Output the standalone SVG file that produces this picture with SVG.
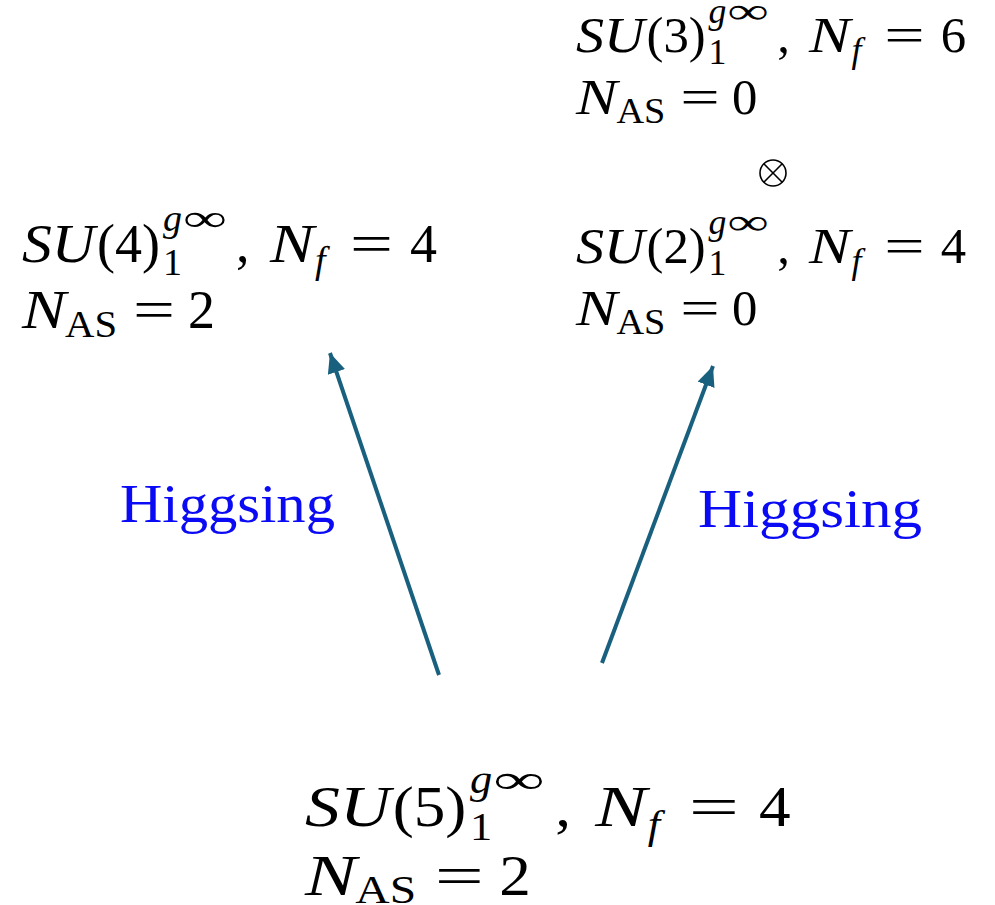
<svg xmlns="http://www.w3.org/2000/svg" width="995" height="905" viewBox="0 0 995 905">
<defs>
<marker id="ah" markerUnits="userSpaceOnUse" markerWidth="22" markerHeight="20" refX="20" refY="9" orient="auto">
<path d="M0,0 L20,9 L0,18 Z" fill="#19607f"/>
</marker>
</defs>
<rect width="995" height="905" fill="#fff"/>

<g id="connectors" stroke="#19607f" stroke-width="4" fill="none">
<line x1="439" y1="675" x2="330" y2="353" marker-end="url(#ah)"/>
<line x1="602" y1="663" x2="713" y2="366" marker-end="url(#ah)"/>
</g>

<g id="label-left"><text font-family="Liberation Serif" font-size="55" fill="#0a0af5" x="120" y="522" textLength="215" lengthAdjust="spacingAndGlyphs">Higgsing</text></g>
<g id="label-right"><text font-family="Liberation Serif" font-size="55" fill="#0a0af5" x="698" y="527" textLength="224" lengthAdjust="spacingAndGlyphs">Higgsing</text></g>

<g id="node-su4" transform="translate(22,262)" fill="#000">
<text font-family="Liberation Serif" font-size="54" font-style="italic" x="0" y="0" textLength="73" lengthAdjust="spacingAndGlyphs">SU</text>
<text font-family="Liberation Serif" font-size="54" x="75" y="0">(4)</text>
<text font-family="Liberation Serif" font-size="38" font-style="italic" x="141" y="-31">g</text>
<text font-family="Liberation Serif" font-size="38" x="161" y="-31" textLength="44" lengthAdjust="spacingAndGlyphs">∞</text>
<text font-family="Liberation Serif" font-size="38" x="141" y="13">1</text>
<text font-family="Liberation Serif" font-size="54" x="214" y="0">,</text>
<text font-family="Liberation Serif" font-size="54" font-style="italic" x="248" y="0" textLength="44" lengthAdjust="spacingAndGlyphs">N</text>
<text font-family="Liberation Serif" font-size="38" font-style="italic" x="293" y="11">f</text>
<text font-family="Liberation Serif" font-size="54" x="328" y="0" textLength="43" lengthAdjust="spacingAndGlyphs">=</text>
<text font-family="Liberation Serif" font-size="54" x="388" y="0">4</text>
<text font-family="Liberation Serif" font-size="54" font-style="italic" x="0" y="66" textLength="44" lengthAdjust="spacingAndGlyphs">N</text>
<text font-family="Liberation Serif" font-size="38" x="43" y="75" textLength="52" lengthAdjust="spacingAndGlyphs">AS</text>
<text font-family="Liberation Serif" font-size="54" x="111" y="66" textLength="42" lengthAdjust="spacingAndGlyphs">=</text>
<text font-family="Liberation Serif" font-size="54" x="166" y="66">2</text>
</g>

<g id="node-su3" transform="translate(576,52) scale(0.94)" fill="#000">
<text font-family="Liberation Serif" font-size="54" font-style="italic" x="0" y="0" textLength="73" lengthAdjust="spacingAndGlyphs">SU</text>
<text font-family="Liberation Serif" font-size="54" x="75" y="0">(3)</text>
<text font-family="Liberation Serif" font-size="38" font-style="italic" x="141" y="-31">g</text>
<text font-family="Liberation Serif" font-size="38" x="161" y="-31" textLength="44" lengthAdjust="spacingAndGlyphs">∞</text>
<text font-family="Liberation Serif" font-size="38" x="141" y="13">1</text>
<text font-family="Liberation Serif" font-size="54" x="214" y="0">,</text>
<text font-family="Liberation Serif" font-size="54" font-style="italic" x="248" y="0" textLength="44" lengthAdjust="spacingAndGlyphs">N</text>
<text font-family="Liberation Serif" font-size="38" font-style="italic" x="293" y="11">f</text>
<text font-family="Liberation Serif" font-size="54" x="328" y="0" textLength="43" lengthAdjust="spacingAndGlyphs">=</text>
<text font-family="Liberation Serif" font-size="54" x="388" y="0">6</text>
<text font-family="Liberation Serif" font-size="54" font-style="italic" x="0" y="66" textLength="44" lengthAdjust="spacingAndGlyphs">N</text>
<text font-family="Liberation Serif" font-size="38" x="43" y="75" textLength="52" lengthAdjust="spacingAndGlyphs">AS</text>
<text font-family="Liberation Serif" font-size="54" x="111" y="66" textLength="42" lengthAdjust="spacingAndGlyphs">=</text>
<text font-family="Liberation Serif" font-size="54" x="166" y="66">0</text>
</g>

<g id="otimes" fill="none" stroke="#000" stroke-width="1.6">
<circle cx="773" cy="173" r="13"/>
<line x1="763.8" y1="163.8" x2="782.2" y2="182.2"/>
<line x1="782.2" y1="163.8" x2="763.8" y2="182.2"/>
</g>

<g id="node-su2" transform="translate(576,263) scale(0.94)" fill="#000">
<text font-family="Liberation Serif" font-size="54" font-style="italic" x="0" y="0" textLength="73" lengthAdjust="spacingAndGlyphs">SU</text>
<text font-family="Liberation Serif" font-size="54" x="75" y="0">(2)</text>
<text font-family="Liberation Serif" font-size="38" font-style="italic" x="141" y="-31">g</text>
<text font-family="Liberation Serif" font-size="38" x="161" y="-31" textLength="44" lengthAdjust="spacingAndGlyphs">∞</text>
<text font-family="Liberation Serif" font-size="38" x="141" y="13">1</text>
<text font-family="Liberation Serif" font-size="54" x="214" y="0">,</text>
<text font-family="Liberation Serif" font-size="54" font-style="italic" x="248" y="0" textLength="44" lengthAdjust="spacingAndGlyphs">N</text>
<text font-family="Liberation Serif" font-size="38" font-style="italic" x="293" y="11">f</text>
<text font-family="Liberation Serif" font-size="54" x="328" y="0" textLength="43" lengthAdjust="spacingAndGlyphs">=</text>
<text font-family="Liberation Serif" font-size="54" x="388" y="0">4</text>
<text font-family="Liberation Serif" font-size="54" font-style="italic" x="0" y="66" textLength="44" lengthAdjust="spacingAndGlyphs">N</text>
<text font-family="Liberation Serif" font-size="38" x="43" y="75" textLength="52" lengthAdjust="spacingAndGlyphs">AS</text>
<text font-family="Liberation Serif" font-size="54" x="111" y="66" textLength="42" lengthAdjust="spacingAndGlyphs">=</text>
<text font-family="Liberation Serif" font-size="54" x="166" y="66">0</text>
</g>

<g id="node-su5" transform="translate(305,826) scale(1.17,1.05)" fill="#000">
<text font-family="Liberation Serif" font-size="54" font-style="italic" x="0" y="0" textLength="73" lengthAdjust="spacingAndGlyphs">SU</text>
<text font-family="Liberation Serif" font-size="54" x="75" y="0">(5)</text>
<text font-family="Liberation Serif" font-size="38" font-style="italic" x="141" y="-31">g</text>
<text font-family="Liberation Serif" font-size="38" x="161" y="-31" textLength="44" lengthAdjust="spacingAndGlyphs">∞</text>
<text font-family="Liberation Serif" font-size="38" x="141" y="13">1</text>
<text font-family="Liberation Serif" font-size="54" x="214" y="0">,</text>
<text font-family="Liberation Serif" font-size="54" font-style="italic" x="248" y="0" textLength="44" lengthAdjust="spacingAndGlyphs">N</text>
<text font-family="Liberation Serif" font-size="38" font-style="italic" x="293" y="11">f</text>
<text font-family="Liberation Serif" font-size="54" x="328" y="0" textLength="43" lengthAdjust="spacingAndGlyphs">=</text>
<text font-family="Liberation Serif" font-size="54" x="388" y="0">4</text>
<text font-family="Liberation Serif" font-size="54" font-style="italic" x="0" y="66" textLength="44" lengthAdjust="spacingAndGlyphs">N</text>
<text font-family="Liberation Serif" font-size="38" x="43" y="73" textLength="52" lengthAdjust="spacingAndGlyphs">AS</text>
<text font-family="Liberation Serif" font-size="54" x="111" y="66" textLength="42" lengthAdjust="spacingAndGlyphs">=</text>
<text font-family="Liberation Serif" font-size="54" x="166" y="66">2</text>
</g>
</svg>
